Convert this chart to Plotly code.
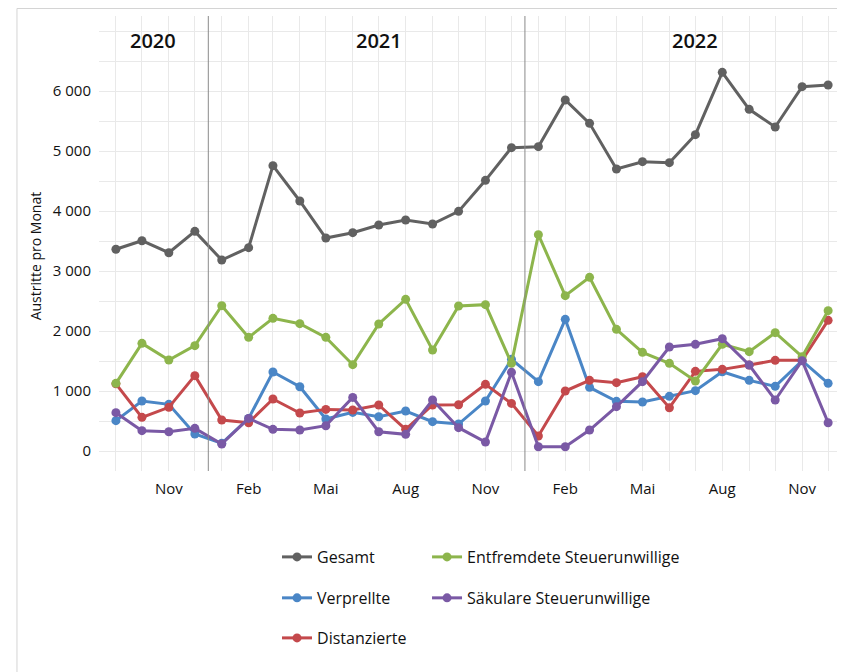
import plotly.graph_objects as go

months = ["2020-09-01", "2020-10-01", "2020-11-01", "2020-12-01",
          "2021-01-01", "2021-02-01", "2021-03-01", "2021-04-01", "2021-05-01", "2021-06-01",
          "2021-07-01", "2021-08-01", "2021-09-01", "2021-10-01", "2021-11-01", "2021-12-01",
          "2022-01-01", "2022-02-01", "2022-03-01", "2022-04-01", "2022-05-01", "2022-06-01",
          "2022-07-01", "2022-08-01", "2022-09-01", "2022-10-01", "2022-11-01", "2022-12-01"]

gesamt = [3362, 3505, 3305, 3661, 3183, 3389, 4756, 4167, 3550, 3639, 3767, 3850,
          3783, 3994, 4511, 5056, 5072, 5850, 5461, 4700, 4822, 4806, 5272, 6311,
          5694, 5400, 6072, 6100]
entfremdete = [1128, 1794, 1517, 1756, 2422, 1894, 2211, 2122, 1894, 1439, 2117, 2528,
               1683, 2417, 2439, 1461, 3606, 2589, 2894, 2028, 1644, 1461, 1167, 1778,
               1656, 1972, 1572, 2339]
verprellte = [506, 833, 778, 283, 128, 544, 1317, 1072, 533, 644, 572, 667,
              489, 450, 833, 1528, 1156, 2194, 1061, 828, 817, 911, 1006, 1322,
              1178, 1078, 1506, 1128]
distanzierte = [1120, 561, 728, 1256, 517, 472, 867, 633, 694, 683, 767, 361,
                767, 772, 1111, 794, 250, 1000, 1178, 1139, 1239, 722, 1328, 1361,
                1433, 1511, 1511, 2178]
saekulare = [639, 339, 322, 378, 117, 544, 361, 350, 422, 894, 322, 278,
             850, 389, 150, 1311, 72, 72, 350, 739, 1156, 1733, 1778, 1872,
             1433, 850, 1506, 472]

tick_dates = ["2020-11-01", "2021-02-01", "2021-05-01", "2021-08-01", "2021-11-01",
              "2022-02-01", "2022-05-01", "2022-08-01", "2022-11-01"]
tick_text = ["Nov", "Feb", "Mai", "Aug", "Nov", "Feb", "Mai", "Aug", "Nov"]

y_ticks = [0, 1000, 2000, 3000, 4000, 5000, 6000]
y_text = ["0", "1 000", "2 000", "3 000", "4 000", "5 000", "6 000"]

years = ["2020", "2021", "2022"]
year_centers = ["2020-10-14", "2021-07-01", "2022-07-01"]
year_bounds = ["2020-12-16 12:00", "2021-12-16 12:00", "2022-12-16 12:00"]

FONT = "Open Sans, Noto Sans, sans-serif"
TXT = "#111111"

# (name, values, color, legend id, legend x, legend y) -- drawing order: last on top
COL1, COL2 = 0.2396, 0.4415
ROW1, ROW2, ROW3 = -0.189, -0.279, -0.367
series = [
    ("Gesamt", gesamt, "#616161", "legend", COL1, ROW1),
    ("Verprellte", verprellte, "#4a86c6", "legend3", COL1, ROW2),
    ("Distanzierte", distanzierte, "#c4494c", "legend5", COL1, ROW3),
    ("Entfremdete Steuerunwillige", entfremdete, "#8db54c", "legend2", COL2, ROW1),
    ("Säkulare Steuerunwillige", saekulare, "#7a59a5", "legend4", COL2, ROW2),
]

fig = go.Figure()
legends = {}
for name, vals, color, leg, lx, ly in series:
    fig.add_trace(go.Scatter(
        x=months, y=vals, name=name, mode="lines+markers",
        line=dict(color=color, width=3),
        marker=dict(color=color, size=9),
        legend=leg,
    ))
    legends[leg] = dict(orientation="h", xanchor="left", yanchor="middle", x=lx, y=ly,
                        font=dict(family=FONT, size=16, color=TXT),
                        bgcolor="rgba(0,0,0,0)", borderwidth=0)

shapes = []
for b in year_bounds:
    shapes.append(dict(type="line", xref="x", yref="paper", x0=b, x1=b, y0=0, y1=1,
                       line=dict(color="#8a8a8a", width=1), layer="above"))
# outer frame (top and left)
shapes.append(dict(type="line", xref="paper", yref="paper", x0=-0.1104, x1=1.03, y0=1.0165, y1=1.0165,
                   line=dict(color="#d4d4d4", width=1)))
shapes.append(dict(type="line", xref="paper", yref="paper", x0=-0.1104, x1=-0.1104, y0=1.0165, y1=-0.45,
                   line=dict(color="#d4d4d4", width=1)))

annotations = []
for yr, c in zip(years, year_centers):
    annotations.append(dict(text=yr, x=c, xref="x", y=0.947, yref="paper", showarrow=False,
                            font=dict(family=FONT, size=20, color=TXT, weight=600),
                            xanchor="center", yanchor="middle"))
annotations.append(dict(text="Austritte pro Monat", x=-0.0854, xref="paper", y=0.473, yref="paper",
                        showarrow=False, textangle=-90,
                        font=dict(family=FONT, size=14, color=TXT),
                        xanchor="center", yanchor="middle"))

fig.update_layout(
    width=837, height=664,
    margin=dict(l=91, r=3, t=8, b=201),
    paper_bgcolor="white", plot_bgcolor="white",
    font=dict(family=FONT, size=15, color=TXT),
    showlegend=True,
    xaxis=dict(
        type="date",
        range=["2020-08-12 12:00", "2022-12-17"],
        tickvals=tick_dates, ticktext=tick_text,
        showgrid=True, gridcolor="#e9e9e9", gridwidth=1,
        minor=dict(dtick="M1", tick0="2020-09-01", showgrid=True, gridcolor="#e9e9e9", gridwidth=1),
        ticks="outside", ticklen=4, tickcolor="rgba(0,0,0,0)",
        tickfont=dict(family=FONT, size=15, color=TXT),
        showline=False, zeroline=False,
    ),
    yaxis=dict(
        range=[-333, 7250],
        tickvals=y_ticks, ticktext=y_text,
        showgrid=True, gridcolor="#e9e9e9", gridwidth=1,
        minor=dict(dtick=500, tick0=0, showgrid=True, gridcolor="#e9e9e9", gridwidth=1),
        ticks="outside", ticklen=4, tickcolor="rgba(0,0,0,0)",
        tickfont=dict(family=FONT, size=15, color=TXT),
        showline=False, zeroline=False,
    ),
    shapes=shapes,
    annotations=annotations,
    **legends,
)

fig.write_html("out.html")
